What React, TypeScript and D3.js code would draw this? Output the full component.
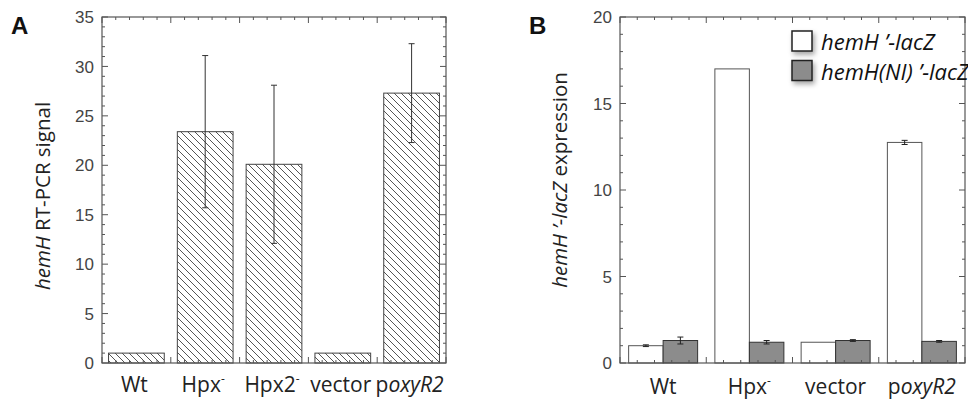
import React from 'react';
import * as d3 from 'd3';

const catsA = ['Wt', 'Hpx', 'Hpx2', 'vector', 'poxyR2'];
const valuesA = [1.0, 23.4, 20.1, 1.0, 27.3];
const errA = [0, 7.7, 8.0, 0, 5.0];
const ticksA = [0, 5, 10, 15, 20, 25, 30, 35];

const catsB = ['Wt', 'Hpx', 'vector', 'poxyR2'];
const seriesB = ['hemH ’-lacZ', 'hemH(NI) ’-lacZ'];
const whiteB = [1.0, 17.0, 1.2, 12.75];
const whiteErrB = [0.05, 0, 0, 0.12];
const greyB = [1.3, 1.2, 1.3, 1.25];
const greyErrB = [0.2, 0.1, 0.05, 0.05];
const ticksB = [0, 5, 10, 15, 20];

const AX = '#555';
const FONT = '"Open Sans", sans-serif';
const NUMFONT = '"Liberation Sans", Arial, sans-serif';

function catLabel(c: string) {
  if (c === 'Hpx') return [<tspan key="a">Hpx</tspan>, <tspan key="b" fontSize="12" dy="-9">-</tspan>];
  if (c === 'Hpx2') return [<tspan key="a">Hpx2</tspan>, <tspan key="b" fontSize="12" dy="-9">-</tspan>];
  if (c === 'poxyR2') return [<tspan key="a">p</tspan>, <tspan key="b" fontStyle="italic">oxyR2</tspan>];
  return c;
}

function Frame({ x, y, yMax, nCat, minorStep }: any) {
  const [x0, x1] = x.range();
  const [y0, y1] = y.range();
  const els: any[] = [];
  d3.range(0, yMax + 0.001, minorStep).forEach((v: number, i: number) => {
    const major = Math.abs(v % 5) < 1e-6;
    const len = major ? 6 : 3;
    const yy = y(v);
    els.push(<line key={'yl' + i} x1={x0} x2={x0 + len} y1={yy} y2={yy} stroke={AX} />);
    els.push(<line key={'yr' + i} x1={x1} x2={x1 - len} y1={yy} y2={yy} stroke={AX} />);
  });
  d3.range(0.5, nCat + 0.5 + 0.001, 0.2).forEach((v: number, i: number) => {
    const r = (v - 0.5) % 1;
    const major = Math.abs(r) < 1e-6 || Math.abs(r - 1) < 1e-6;
    const len = major ? 6 : 3;
    const xx = x(v);
    els.push(<line key={'xt' + i} x1={xx} x2={xx} y1={y1} y2={y1 + len} stroke={AX} />);
    els.push(<line key={'xb' + i} x1={xx} x2={xx} y1={y0} y2={y0 - len} stroke={AX} />);
  });
  return (
    <g>
      {els}
      <rect x={x0} y={y1} width={x1 - x0} height={y0 - y1} fill="none" stroke={AX} strokeWidth={1.2} />
    </g>
  );
}

function ErrBar({ cx, yTop, yBot, color = '#333', cap = 3 }: any) {
  return (
    <g stroke={color} strokeWidth={1}>
      <line x1={cx} x2={cx} y1={yTop} y2={yBot} />
      <line x1={cx - cap} x2={cx + cap} y1={yTop} y2={yTop} />
      <line x1={cx - cap} x2={cx + cap} y1={yBot} y2={yBot} />
    </g>
  );
}

export default function App() {
  const xA = d3.scaleLinear().domain([0.5, 5.5]).range([102, 446]);
  const yA = d3.scaleLinear().domain([0, 35]).range([363, 17]);
  const bwA = 0.81;
  const xB = d3.scaleLinear().domain([0.5, 4.5]).range([620, 965]);
  const yB = d3.scaleLinear().domain([0, 20]).range([363, 17]);
  const bwB = 0.4;

  return (
    <svg width={968} height={403} style={{ position: 'absolute', left: 0, top: 0, background: '#fff' }}>
      <defs>
        <pattern id="hatch" width={7} height={7} patternUnits="userSpaceOnUse">
          <path d="M0,0 L7,7 M-1,6 L1,8 M6,-1 L8,1" stroke="#555" strokeWidth={1} />
        </pattern>
        <filter id="shadow" x="-50%" y="-50%" width="200%" height="200%">
          <feDropShadow dx={2} dy={3} stdDeviation={2.5} floodColor="#000" floodOpacity={0.35} />
        </filter>
      </defs>
      <rect width={968} height={403} fill="#fff" />

      {/* Panel A */}
      <text x={11} y={34} fontFamily={NUMFONT} fontWeight="bold" fontSize={24} fill="#111">A</text>
      {valuesA.map((v, i) => {
        const c = i + 1;
        return (
          <rect key={'a' + i} x={xA(c - bwA / 2)} y={yA(v)} width={xA(c + bwA / 2) - xA(c - bwA / 2)}
            height={yA(0) - yA(v)} fill="url(#hatch)" stroke="#444" strokeWidth={1} />
        );
      })}
      {errA.map((e, i) => e > 0 ? (
        <ErrBar key={'ea' + i} cx={xA(i + 1)} yTop={yA(valuesA[i] + e)} yBot={yA(valuesA[i] - e)} />
      ) : null)}
      <Frame x={xA} y={yA} yMax={35} nCat={5} minorStep={1} />
      {ticksA.map((t) => (
        <text key={'ta' + t} x={94} y={yA(t)} dy="0.36em" textAnchor="end" fontFamily={NUMFONT} fontSize={17} fill="#444">{t}</text>
      ))}
      {catsA.map((c, i) => (
        <text key={'ca' + i} x={xA(i + 1) - 2} y={392} textAnchor="middle" fontFamily={FONT} fontSize={21} fill="#222">{catLabel(c)}</text>
      ))}
      <text transform={`translate(50,196) rotate(-90)`} textAnchor="middle" fontFamily={FONT} fontSize={20.5} fill="#222">
        <tspan fontStyle="italic">hemH</tspan> RT-PCR signal
      </text>

      {/* Panel B */}
      <text x={529} y={34} fontFamily={NUMFONT} fontWeight="bold" fontSize={24} fill="#111">B</text>
      {whiteB.map((v, i) => {
        const c = i + 1;
        return (
          <rect key={'bw' + i} x={xB(c - bwB)} y={yB(v)} width={xB(c) - xB(c - bwB)}
            height={yB(0) - yB(v)} fill="#fff" stroke="#555" strokeWidth={1} />
        );
      })}
      {greyB.map((v, i) => {
        const c = i + 1;
        return (
          <rect key={'bg' + i} x={xB(c)} y={yB(v)} width={xB(c + bwB) - xB(c)}
            height={yB(0) - yB(v)} fill="#8c8c8c" stroke="#333" strokeWidth={1} />
        );
      })}
      {whiteErrB.map((e, i) => e > 0 ? (
        <ErrBar key={'ebw' + i} cx={xB(i + 1 - bwB / 2)} yTop={yB(whiteB[i] + e)} yBot={yB(whiteB[i] - e)} color="#222" cap={3} />
      ) : null)}
      {greyErrB.map((e, i) => e > 0 ? (
        <ErrBar key={'ebg' + i} cx={xB(i + 1 + bwB / 2)} yTop={yB(greyB[i] + e)} yBot={yB(greyB[i] - e)} color="#222" cap={3} />
      ) : null)}
      <Frame x={xB} y={yB} yMax={20} nCat={4} minorStep={1} />
      {ticksB.map((t) => (
        <text key={'tb' + t} x={612} y={yB(t)} dy="0.36em" textAnchor="end" fontFamily={NUMFONT} fontSize={17} fill="#444">{t}</text>
      ))}
      {catsB.map((c, i) => (
        <text key={'cb' + i} x={xB(i + 1)} y={394} textAnchor="middle" fontFamily={FONT} fontSize={21} fill="#222">{catLabel(c)}</text>
      ))}
      <text transform={`translate(567,180) rotate(-90)`} textAnchor="middle" fontFamily={FONT} fontSize={20.5} fill="#222">
        <tspan fontStyle="italic">hemH ’-lacZ</tspan> expression
      </text>

      {/* Legend */}
      {seriesB.map((s, i) => (
        <g key={'lg' + i}>
          <rect x={792} y={31 + i * 29.5} width={20} height={20} fill={i === 0 ? '#fff' : '#8c8c8c'}
            stroke="#222" strokeWidth={1.5} filter="url(#shadow)" />
          <text x={821} y={50 + i * 29.5} fontFamily={FONT} fontStyle="italic" fontSize={22} fill="#111">{s}</text>
        </g>
      ))}
    </svg>
  );
}
